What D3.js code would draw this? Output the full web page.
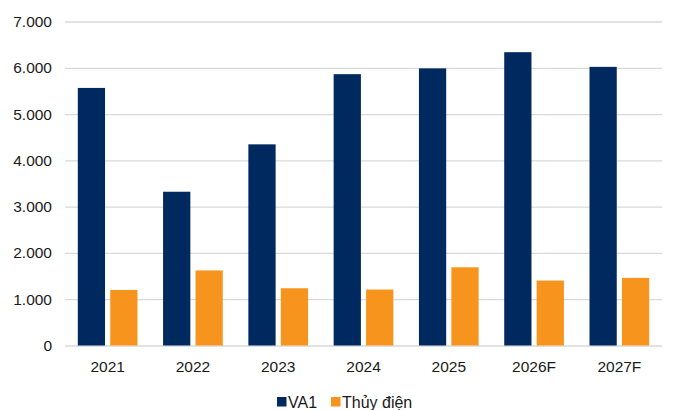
<!DOCTYPE html>
<html>
<head>
<meta charset="utf-8">
<script src="https://cdn.jsdelivr.net/npm/d3@7"></script>
<style>
  body { margin: 0; background: #fff; }
  text { font-family: "Liberation Sans", Arial, sans-serif; fill: #1a1a1a; }
</style>
</head>
<body>
<svg id="chart"></svg>
<script>
var width = 673;
var height = 410;

// data
var years = ["2021", "2022", "2023", "2024", "2025", "2026F", "2027F"];
var seriesNames = ["VA1", "Thủy điện"];
var va1 = [5565, 3322, 4346, 5862, 5987, 6337, 6020];
var thuyDien = [1200, 1622, 1237, 1209, 1690, 1403, 1461];
var yTicks = [0, 1000, 2000, 3000, 4000, 5000, 6000, 7000];

var colors = ["#002960", "#F7941D"];

var margin = { left: 65, right: 11, top: 21.5, bottom: 64.5 };

var svg = d3.select('#chart')
	.attr('width', width)
	.attr('height', height);

var x0 = d3.scaleBand()
	.domain(years)
	.range([margin.left, width - margin.right])
	.paddingInner(0.3)
	.paddingOuter(0.15);

var x1 = d3.scaleBand()
	.domain(seriesNames)
	.range([0, x0.bandwidth()])
	.paddingInner(0.16);

var y = d3.scaleLinear()
	.domain([0, 7000])
	.range([height - margin.bottom, margin.top]);

var fmt = function(d) { return d3.format(",")(d).replace(/,/g, "."); };

// gridlines + y labels
var yAxis = d3.axisLeft(y)
	.tickValues(yTicks)
	.tickSize(-(width - margin.right - margin.left))
	.tickPadding(13)
	.tickFormat(fmt);

var gy = svg.append('g')
	.attr('transform', 'translate(' + margin.left + ',0)')
	.call(yAxis);
gy.select('.domain').remove();
gy.selectAll('.tick line').attr('stroke', '#d9d9d9').attr('stroke-width', 1.3);
gy.selectAll('.tick text').attr('font-size', 15.5).attr('fill', '#1a1a1a');

// bars
var rows = years.map(function(yr, i) { return { year: yr, values: [va1[i], thuyDien[i]] }; });

var groups = svg.selectAll('g.year')
	.data(rows)
	.enter().append('g')
	.attr('class', 'year')
	.attr('transform', function(d) { return 'translate(' + x0(d.year) + ',0)'; });

groups.selectAll('rect')
	.data(function(d) { return d.values.map(function(v, i) { return { name: seriesNames[i], value: v, i: i }; }); })
	.enter().append('rect')
	.attr('x', function(d) { return x1(d.name); })
	.attr('width', x1.bandwidth())
	.attr('y', function(d) { return y(d.value); })
	.attr('height', function(d) { return y(0) - y(d.value); })
	.attr('fill', function(d) { return colors[d.i]; });

// x labels
var xAxis = d3.axisBottom(x0).tickSize(0).tickPadding(15);
var gx = svg.append('g')
	.attr('transform', 'translate(0,' + y(0) + ')')
	.call(xAxis);
gx.select('.domain').remove();
gx.selectAll('.tick text').attr('font-size', 15.5).attr('fill', '#1a1a1a');

// legend
var legendX = [277, 331];
var legend = svg.selectAll('g.legend')
	.data(seriesNames)
	.enter().append('g')
	.attr('class', 'legend')
	.attr('transform', function(d, i) { return 'translate(' + legendX[i] + ',397)'; });

legend.append('rect')
	.attr('width', 9.5)
	.attr('height', 9.5)
	.attr('fill', function(d, i) { return colors[i]; });

legend.append('text')
	.attr('x', 11)
	.attr('y', 10.5)
	.attr('font-size', 16)
	.text(function(d) { return d; });
</script>
</body>
</html>
